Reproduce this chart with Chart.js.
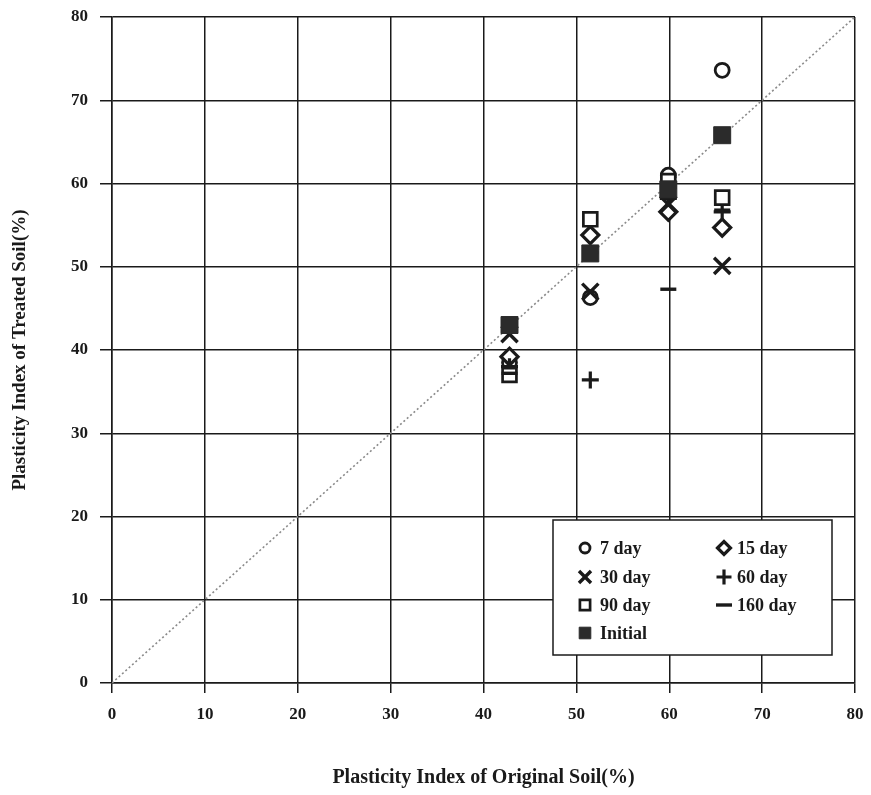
<!DOCTYPE html>
<html>
<head>
<meta charset="utf-8">
<script src="https://cdn.jsdelivr.net/npm/chart.js@4/dist/chart.umd.min.js"></script>
<style>
  html, body { margin: 0; padding: 0; background: #fff; }
  #wrap { width: 871px; height: 795px; }
</style>
</head>
<body>
<div id="wrap"><canvas id="c" width="871" height="795"></canvas></div>
<script>
// Plasticity index of original soil (x) for each of the four soils
const originalPI = [42.8, 51.5, 59.9, 65.7];
// Plasticity index of treated soil by curing time
const day7    = [38.5, 46.3, 61.0, 73.6];
const day15   = [39.2, 53.8, 56.6, 54.7];
const day30   = [41.9, 47.0, 57.5, 50.1];
const day60   = [38.0, 36.4, 58.2, 56.6];
const day90   = [37.0, 55.7, 60.3, 58.3];
const day160  = [37.2, 51.7, 47.3, 56.8];
const initial = [43.0, 51.6, 59.3, 65.8];
const seriesNames = ['7 day', '15 day', '30 day', '60 day', '90 day', '160 day', 'Initial'];
const axisTicks = [0, 10, 20, 30, 40, 50, 60, 70, 80];

const FONT = '"Liberation Serif", "DejaVu Serif", serif';
const INK = '#1a1a1a';

function pts(ys) { return ys.map((y, i) => ({ x: originalPI[i], y: y })); }

// marker styles: plot size and (smaller) legend size
const styles = [
  { pointStyle: 'circle',   radius: 7,    legendRadius: 5,   borderWidth: 2.8, fill: '#fff' },
  { pointStyle: 'rectRot',  radius: 8.5,  legendRadius: 6.5, borderWidth: 3.2, fill: '#fff' },
  { pointStyle: 'crossRot', radius: 11.5, legendRadius: 8.5, borderWidth: 3.4, fill: INK },
  { pointStyle: 'cross',    radius: 8.5,  legendRadius: 7.5, borderWidth: 3.2, fill: INK },
  { pointStyle: 'rect',     radius: 9.8,  legendRadius: 7.2, borderWidth: 2.7, fill: '#fff' },
  { pointStyle: 'line',     radius: 8,    legendRadius: 8,   borderWidth: 3.4, fill: INK },
  { pointStyle: 'rect',     radius: 12,   legendRadius: 8.2, borderWidth: 1,   fill: '#2b2b2b' }
];
const seriesData = [day7, day15, day30, day60, day90, day160, initial];

const datasets = [{
  type: 'line',
  label: 'equality',
  data: [{ x: 0, y: 0 }, { x: 80, y: 80 }],
  borderColor: '#8a8a8a',
  borderWidth: 1.6,
  borderDash: [2, 2.5],
  pointRadius: 0,
  fill: false,
  order: 10
}];
seriesData.forEach((ys, i) => {
  const s = styles[i];
  datasets.push({
    type: 'scatter',
    label: seriesNames[i],
    data: pts(ys),
    pointStyle: s.pointStyle,
    pointRadius: s.radius,
    pointBorderWidth: s.borderWidth,
    pointBackgroundColor: s.fill,
    pointBorderColor: i === 6 ? '#2b2b2b' : INK,
    order: 7 - i
  });
});

// Boxed two-column legend drawn inside the plot area
const boxLegend = {
  id: 'boxLegend',
  afterDatasetsDraw(chart) {
    const ctx = chart.ctx;
    const bx = 553, by = 520, bw = 279, bh = 135;
    ctx.save();
    ctx.fillStyle = '#fff';
    ctx.fillRect(bx, by, bw, bh);
    ctx.strokeStyle = INK;
    ctx.lineWidth = 1.5;
    ctx.strokeRect(bx, by, bw, bh);
    const cols = [{ mx: 585, tx: 600 }, { mx: 724, tx: 737 }];
    const rows = [548, 577, 605, 633];
    const order = [[0, 0, 0], [1, 1, 0], [2, 0, 1], [3, 1, 1], [4, 0, 2], [5, 1, 2], [6, 0, 3]];
    ctx.font = 'bold 18px ' + FONT;
    ctx.textBaseline = 'middle';
    ctx.textAlign = 'left';
    order.forEach(([i, c, r]) => {
      const s = styles[i];
      const y = rows[r];
      ctx.fillStyle = s.fill;
      ctx.strokeStyle = i === 6 ? '#2b2b2b' : INK;
      ctx.lineWidth = s.borderWidth;
      Chart.helpers.drawPoint(ctx, {
        pointStyle: s.pointStyle, radius: s.legendRadius, rotation: 0, borderWidth: s.borderWidth
      }, cols[c].mx, y);
      ctx.fillStyle = INK;
      ctx.fillText(seriesNames[i], cols[c].tx, y + 1);
    });
    ctx.restore();
  }
};

new Chart(document.getElementById('c'), {
  data: { datasets },
  options: {
    responsive: false,
    animation: false,
    events: [],
    layout: { padding: { left: 0, right: 16, top: 17, bottom: 0 } },
    plugins: { legend: { display: false }, tooltip: { enabled: false } },
    scales: {
      x: {
        type: 'linear', min: 0, max: 80,
        afterBuildTicks(axis) { axis.ticks = axisTicks.map(v => ({ value: v })); },
        afterFit(axis) { axis.height = 112; axis.paddingLeft = 0; axis.paddingRight = 0; },
        grid: { color: INK, lineWidth: 1.5, tickLength: 10, drawTicks: true },
        border: { color: INK, width: 1.5 },
        ticks: { color: INK, padding: 11, font: { family: FONT, size: 17, weight: 'bold' } },
        title: {
          display: true, text: 'Plasticity Index of Original Soil(%)', color: INK,
          font: { family: FONT, size: 20, weight: 'bold' }, padding: { top: 0, bottom: 5 }
        }
      },
      y: {
        type: 'linear', min: 0, max: 80,
        afterBuildTicks(axis) { axis.ticks = axisTicks.map(v => ({ value: v })); },
        afterFit(axis) { axis.width = 112; axis.paddingTop = 0; axis.paddingBottom = 0; },
        grid: { color: INK, lineWidth: 1.5, tickLength: 12, drawTicks: true },
        border: { color: INK, width: 1.5 },
        ticks: { color: INK, padding: 12, font: { family: FONT, size: 17, weight: 'bold' } },
        title: {
          display: true, text: 'Plasticity Index of Treated Soil(%)', color: INK,
          font: { family: FONT, size: 19, weight: 'bold' }, padding: { top: 9, bottom: 0 }
        }
      }
    }
  },
  plugins: [boxLegend]
});
</script>
</body>
</html>
